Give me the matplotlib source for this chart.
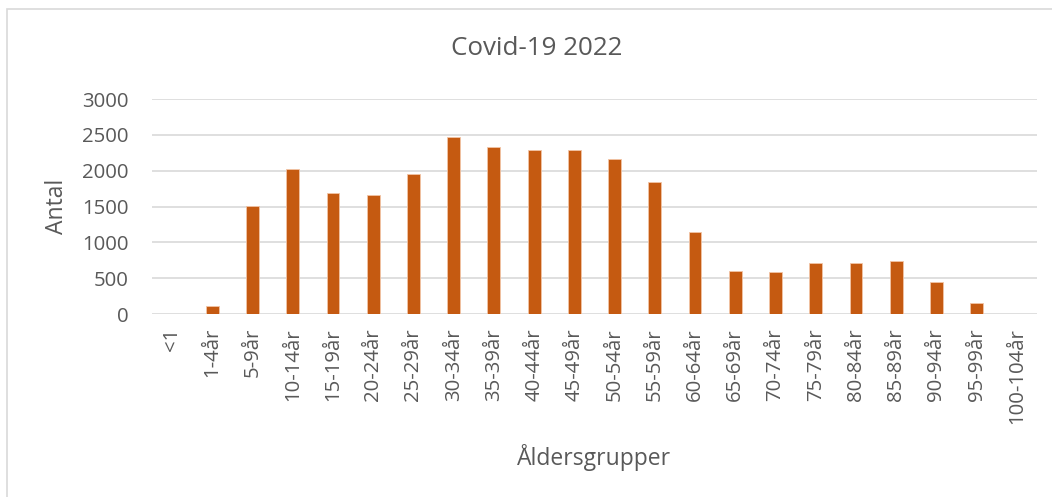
import matplotlib
matplotlib.use('Agg')
import matplotlib.pyplot as plt
from matplotlib.patches import Rectangle

# Åldersgrupper och antal fall
age_groups = ['<1', '1-4år', '5-9år', '10-14år', '15-19år', '20-24år', '25-29år',
              '30-34år', '35-39år', '40-44år', '45-49år', '50-54år', '55-59år',
              '60-64år', '65-69år', '70-74år', '75-79år', '80-84år', '85-89år',
              '90-94år', '95-99år', '100-104år']
counts = [0, 110, 1510, 2020, 1685, 1660, 1960, 2467, 2337, 2291, 2295, 2161,
          1841, 1141, 607, 589, 719, 714, 742, 454, 153, 0]
y_ticks = [0, 500, 1000, 1500, 2000, 2500, 3000]

plt.rcParams['font.family'] = ['Open Sans', 'DejaVu Sans']
text_color = '#595959'

fig = plt.figure(figsize=(10.52, 4.97), dpi=100)
ax = fig.add_axes([0.1445, 0.368, 0.8412, 0.4328])

ax.bar(range(len(counts)), counts, width=0.32, color='#C55A11',
       edgecolor='#F2C4A6', linewidth=0.6, zorder=3)

ax.set_xlim(-0.5, len(counts) - 0.5)
ax.set_ylim(0, 3000)
ax.set_yticks(y_ticks)
ax.set_yticklabels([str(v) for v in y_ticks], fontsize=14.7, color=text_color)
ax.set_xticks(range(len(age_groups)))
ax.set_xticklabels(age_groups, rotation=90, fontsize=14.7, color=text_color)
ax.tick_params(axis='both', length=0)
ax.tick_params(axis='y', pad=17)
ax.tick_params(axis='x', pad=10)
ax.grid(axis='y', color='#D9D9D9', linewidth=1.2, zorder=0)
for s in ax.spines.values():
    s.set_visible(False)

fig.text(0.510, 0.903, 'Covid-19 2022', ha='center', va='center', fontsize=18.7, color=text_color)
fig.text(0.565, 0.08, 'Åldersgrupper', ha='center', va='center', fontsize=16.5, color=text_color)
fig.text(0.054, 0.584, 'Antal', ha='center', va='center', rotation=90, fontsize=16.5, color=text_color)

# ram runt diagrammet
fig.patches.append(Rectangle((7 / 1052, -0.1), 1.2, 1 - 9 / 497 + 0.1, transform=fig.transFigure,
                             fill=False, edgecolor='#D9D9D9', linewidth=1.2))

fig.savefig('out.png', dpi=100)
